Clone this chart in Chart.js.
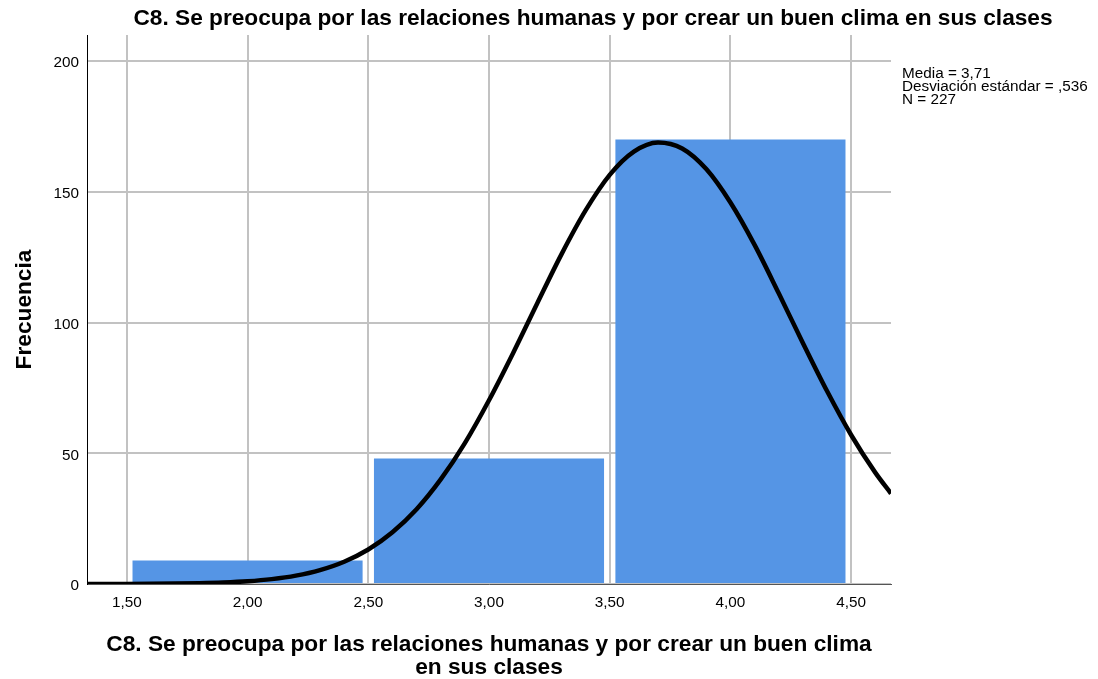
<!DOCTYPE html>
<html>
<head>
<meta charset="utf-8">
<script src="https://cdn.jsdelivr.net/npm/chart.js@4/dist/chart.umd.min.js"></script>
<style>
  html, body { margin: 0; padding: 0; background: #fff; overflow: hidden; }
  canvas { display: block; }
</style>
</head>
<body>
<canvas id="hist" width="1098" height="679"></canvas>
<script>
// Histogram bins (centre of each unit-wide bin) and their counts
const binCenters = [2.0, 3.0, 4.0];
const frequencies = [9, 48, 170];

// Fitted normal curve, sampled along the x range
const curveX = [1.335, 1.5, 1.6, 1.7, 1.8, 1.9, 2.0, 2.1, 2.2, 2.3, 2.4, 2.5, 2.6, 2.7, 2.8, 2.9,
                3.0, 3.1, 3.2, 3.3, 3.4, 3.5, 3.6, 3.7, 3.8, 3.9, 4.0, 4.1, 4.2, 4.3, 4.4, 4.5, 4.6, 4.665];
const curveY = [0.01, 0.03, 0.07, 0.15, 0.3, 0.57, 1.04, 1.86, 3.19, 5.31, 8.52, 13.2, 19.8, 28.6, 40.0, 53.9,
                70.3, 88.4, 107.4, 126.1, 142.9, 156.5, 165.4, 168.9, 166.6, 158.7, 145.9, 129.7, 111.2, 92.2, 73.8, 57.0, 42.6, 34.6];

// Axis ticks
const xTickValues = [1.5, 2.0, 2.5, 3.0, 3.5, 4.0, 4.5];
const xTickLabels = ['1,50', '2,00', '2,50', '3,00', '3,50', '4,00', '4,50'];
const yTickValues = [0, 50, 100, 150, 200];

// Texts
const chartTitle = 'C8. Se preocupa por las relaciones humanas y por crear un buen clima en sus clases';
const xTitleLines = ['C8. Se preocupa por las relaciones humanas y por crear un buen clima', 'en sus clases'];
const yTitle = 'Frecuencia';
const statsLines = ['Media = 3,71', 'Desviación estándar = ,536', 'N = 227'];

const FONT = '"Liberation Sans", Arial, Helvetica, sans-serif';
const GRID = '#c2c2c2';

const textPlugin = {
  id: 'histTexts',
  afterDraw(chart) {
    const ctx = chart.ctx;
    const a = chart.chartArea;
    ctx.save();
    ctx.fillStyle = '#000';
    ctx.textBaseline = 'alphabetic';

    ctx.font = 'bold 22.7px ' + FONT;
    ctx.textAlign = 'center';
    ctx.fillText(chartTitle, 593, 25);

    const cx = (a.left + a.right) / 2;
    ctx.fillText(xTitleLines[0], cx, 651);
    ctx.fillText(xTitleLines[1], cx, 674);

    ctx.save();
    ctx.translate(31, (a.top + a.bottom) / 2);
    ctx.rotate(-Math.PI / 2);
    ctx.fillText(yTitle, 0, 0);
    ctx.restore();

    ctx.font = '15.3px ' + FONT;
    ctx.textAlign = 'left';
    statsLines.forEach((t, i) => ctx.fillText(t, 902, 77.5 + i * 13));
    ctx.restore();
  }
};

new Chart(document.getElementById('hist'), {
  type: 'bar',
  data: {
    datasets: [
      {
        type: 'line',
        order: 0,
        data: curveX.map((x, i) => ({ x, y: curveY[i] })),
        borderColor: '#000',
        borderWidth: 4.5,
        pointRadius: 0,
        fill: false,
        cubicInterpolationMode: 'monotone'
      },
      {
        type: 'bar',
        order: 1,
        data: binCenters.map((x, i) => ({ x, y: frequencies[i] })),
        backgroundColor: '#5595e5',
        borderWidth: 0,
        // bar sample spacing follows the 0.5 tick step, so one bin spans two steps
        categoryPercentage: 2,
        barPercentage: 0.953
      }
    ]
  },
  plugins: [textPlugin],
  options: {
    responsive: false,
    animation: false,
    events: [],
    layout: { padding: { left: 0, right: 207, top: 35, bottom: 65 } },
    plugins: { legend: { display: false }, tooltip: { enabled: false }, title: { display: false } },
    scales: {
      x: {
        type: 'linear',
        offset: false,
        min: 1.335,
        max: 4.665,
        afterBuildTicks: s => { s.ticks = xTickValues.map(v => ({ value: v })); },
        afterFit: s => { s.height = 30; },
        grid: { color: GRID, lineWidth: 2, drawTicks: false, offset: false },
        border: { display: true, color: '#555', width: 1 },
        ticks: {
          padding: 10,
          autoSkip: false,
          maxRotation: 0,
          color: '#000',
          font: { family: FONT, size: 15.3 },
          callback: (v, i) => xTickLabels[i]
        }
      },
      y: {
        type: 'linear',
        min: 0,
        max: 210,
        afterBuildTicks: s => { s.ticks = yTickValues.map(v => ({ value: v })); },
        afterFit: s => { s.width = 87; },
        grid: { color: GRID, lineWidth: 2, drawTicks: false },
        border: { display: true, color: '#000', width: 1 },
        ticks: {
          padding: 8,
          labelOffset: 2,
          color: '#000',
          font: { family: FONT, size: 15.3 },
          callback: v => String(v)
        }
      }
    }
  }
});
</script>
</body>
</html>
